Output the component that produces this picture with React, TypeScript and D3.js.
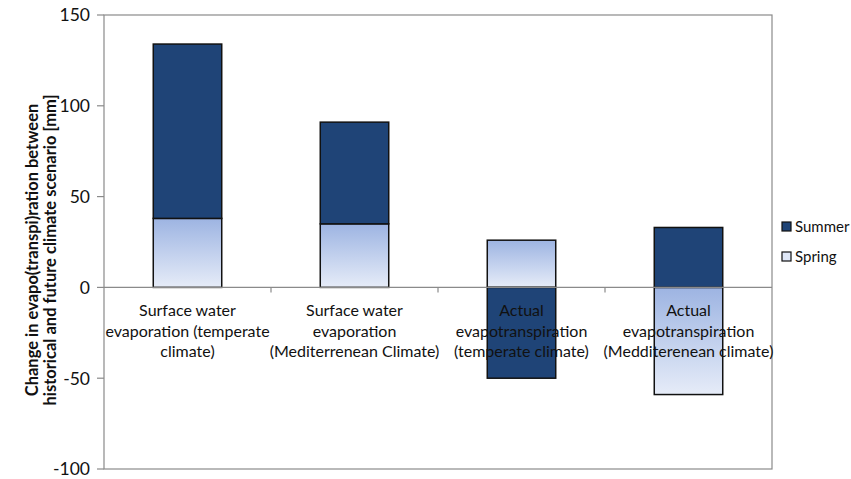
import React from "react";
import * as d3 from "d3";

const categories = [
  ["Surface water", "evaporation (temperate", "climate)"],
  ["Surface water", "evaporation", "(Mediterrenean Climate)"],
  ["Actual", "evapotranspiration", "(temperate climate)"],
  ["Actual", "evapotranspiration", "(Medditerenean climate)"],
];
const springValues = [38, 35, 26, -59];
const summerValues = [96, 56, -50, 33];
const yTicks = [-100, -50, 0, 50, 100, 150];
const seriesNames = ["Summer", "Spring"];

const W = 851, H = 479;
const left = 104, right = 772, top = 15, bottom = 469;
const FONT = "Lato, 'Open Sans', sans-serif";

export default function App() {
  const x = d3.scaleBand<number>().domain(categories.map((_, i) => i)).range([left, right]).paddingInner(0.59).paddingOuter(0.295);
  const y = d3.scaleLinear().domain([-100, 150]).range([bottom, top]);
  const summerCol = "#1f4477";

  // Excel-style stacking: positives stack up, negatives stack down, spring first
  const segs: { i: number; y0: number; y1: number; s: string }[] = [];
  categories.forEach((_, i) => {
    let pos = 0, neg = 0;
    [["spring", springValues[i]], ["summer", summerValues[i]]].forEach(([s, v]: any) => {
      if (v >= 0) { segs.push({ i, y0: pos, y1: pos + v, s }); pos += v; }
      else { segs.push({ i, y0: neg, y1: neg + v, s }); neg += v; }
    });
  });

  const bw = x.bandwidth();
  const bandStep = (right - left) / categories.length;

  return (
    <svg width={W} height={H} style={{ position: "absolute", left: 0, top: 0, background: "#fff" }}>
      <defs>
        <linearGradient id="springGrad" x1="0" y1="0" x2="0" y2="1">
          <stop offset="0" stopColor="#9db4e2" />
          <stop offset="1" stopColor="#e6ecf8" />
        </linearGradient>
      </defs>
      {/* plot border */}
      <rect x={left} y={top} width={right - left} height={bottom - top} fill="none" stroke="#8a8a8a" strokeWidth={1.2} />
      {/* y ticks */}
      {yTicks.map(t => (
        <g key={t}>
          <line x1={left - 7} x2={left} y1={y(t)} y2={y(t)} stroke="#8a8a8a" strokeWidth={1.2} />
          <text x={left - 14} y={y(t)} dy="0.36em" textAnchor="end" fontFamily={FONT} fontSize={17.5} fill="#111">{t}</text>
        </g>
      ))}
      {/* bars */}
      {segs.map((d, k) => {
        const y0 = y(Math.max(d.y0, d.y1)), y1 = y(Math.min(d.y0, d.y1));
        return (
          <rect key={k} x={x(d.i)} y={y0} width={bw} height={y1 - y0}
            fill={d.s === "summer" ? summerCol : "url(#springGrad)"} stroke="#111" strokeWidth={1.5} />
        );
      })}
      {/* zero axis */}
      <line x1={left} x2={right} y1={y(0)} y2={y(0)} stroke="#8a8a8a" strokeWidth={1.2} />
      {d3.range(1, categories.length).map(k => (
        <line key={k} x1={left + k * bandStep} x2={left + k * bandStep} y1={y(0)} y2={y(0) + 5} stroke="#8a8a8a" strokeWidth={1.2} />
      ))}
      {/* category labels */}
      {categories.map((lines, i) => (
        <text key={i} textAnchor="middle" fontFamily={FONT} fontSize={16} fill="#111">
          {lines.map((l, j) => (
            <tspan key={j} x={(x(i) as number) + bw / 2} y={y(0) + 29 + j * 20.5}>{l}</tspan>
          ))}
        </text>
      ))}
      {/* y title */}
      <text transform={`translate(38,${(top + bottom) / 2 + 8}) rotate(-90)`} textAnchor="middle" fontFamily={FONT} fontWeight="bold" fontSize={16.5} fill="#111">
        <tspan x={0} y={0}>Change in evapo(transpi)ration between</tspan>
        <tspan x={0} y={18}>historical and future climate scenario [mm]</tspan>
      </text>
      {/* legend */}
      {seriesNames.map((n, k) => (
        <g key={n} transform={`translate(782,${227 + k * 30})`}>
          <rect x={0} y={-5} width={9} height={9} fill={n === "Summer" ? summerCol : "#dfe7f7"} stroke="#111" strokeWidth={1.2} />
          <text x={13} y={0} dy="0.36em" fontFamily={FONT} fontSize={15} fill="#111">{n}</text>
        </g>
      ))}
    </svg>
  );
}
